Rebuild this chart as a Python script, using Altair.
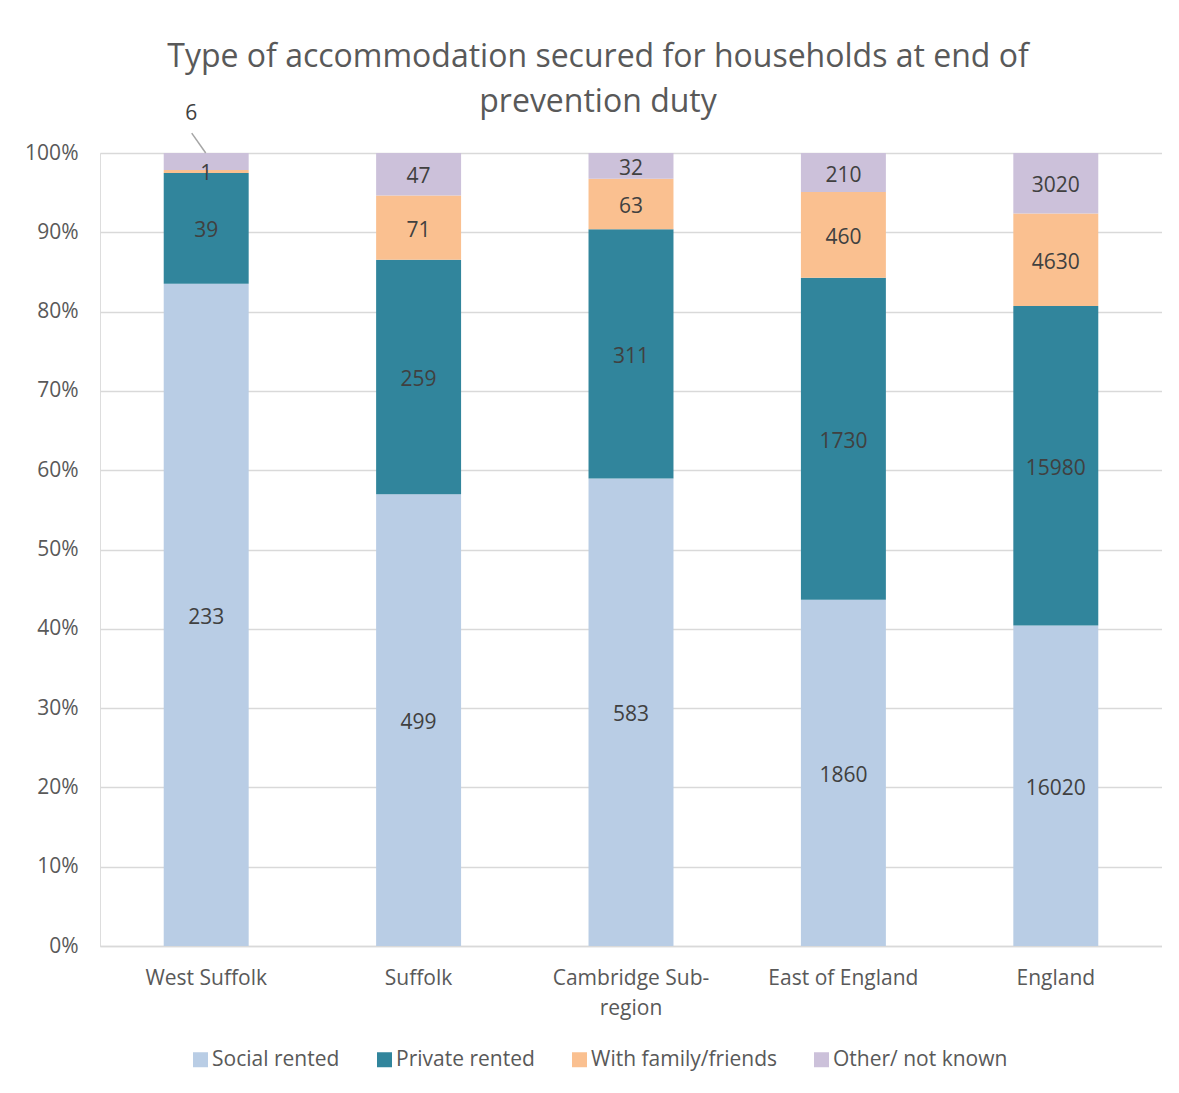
import altair as alt
import pandas as pd

regions = ["West Suffolk", "Suffolk", "Cambridge Sub-region", "East of England", "England"]
categories = ["Social rented", "Private rented", "With family/friends", "Other/ not known"]
social = [233, 499, 583, 1860, 16020]
private = [39, 259, 311, 1730, 15980]
family = [1, 71, 63, 460, 4630]
other = [6, 47, 32, 210, 3020]
colors = ["#B9CDE5", "#31859C", "#FAC090", "#CCC1DA"]

# label drawn above its bar with a leader line
callouts = [("West Suffolk", "Other/ not known")]

FONT = "Open Sans"
GREY = "#595959"
FS = 21

rows = []
for i, r in enumerate(regions):
    for k, (c, vals) in enumerate(zip(categories, [social, private, family, other])):
        rows.append({"region": r, "category": c, "k": k, "value": vals[i],
                     "callout": (r, c) in callouts})
df = pd.DataFrame(rows)

base = alt.Chart(df).transform_stack(
    stack="value", groupby=["region"], as_=["y0", "y1"], offset="normalize",
    sort=[alt.SortField("k", order="ascending")]
).transform_calculate(mid="(datum.y0 + datum.y1) / 2")

x_enc = alt.X(
    "region:N", sort=regions, title=None,
    scale=alt.Scale(paddingInner=0.6, paddingOuter=0.3),
    axis=alt.Axis(
        labelAngle=0, labelFontSize=FS, labelColor=GREY, labelFont=FONT,
        labelPadding=21, labelLineHeight=30, ticks=False,
        domainColor="#D9D9D9", domainWidth=1.5,
        labelExpr="datum.value == 'Cambridge Sub-region' ? ['Cambridge Sub-', 'region'] : datum.value",
    ),
)
y_scale = alt.Scale(domain=[0, 1], nice=False)

bars = base.mark_bar().encode(
    x=x_enc,
    y=alt.Y("y0:Q", scale=y_scale, title=None,
            axis=alt.Axis(format="%", values=[i / 10 for i in range(11)],
                          labelFontSize=FS, labelColor=GREY, labelFont=FONT,
                          labelPadding=22, ticks=False, domain=False,
                          gridColor="#D9D9D9", gridWidth=1.5)),
    y2="y1:Q",
    color=alt.Color(
        "category:N", scale=alt.Scale(domain=categories, range=colors),
        legend=alt.Legend(
            title=None, orient="none", legendX=90, legendY=896,
            direction="horizontal", symbolType="square", symbolSize=225,
            symbolStrokeWidth=0, labelFontSize=FS, labelColor=GREY,
            labelFont=FONT, columnPadding=34, labelOffset=1, labelLimit=400,
        ),
    ),
)

labels = base.transform_filter("!datum.callout").mark_text(
    fontSize=FS, font=FONT, color="#404040", dy=3
).encode(
    x=alt.X("region:N", sort=regions),
    y=alt.Y("mid:Q", scale=y_scale),
    text=alt.Text("value:Q", format="d"),
)

callout_text = base.transform_filter("datum.callout").transform_calculate(
    ly="datum.y1 + 0.052"
).mark_text(fontSize=FS, font=FONT, color="#404040", dx=-15, dy=2).encode(
    x=alt.X("region:N", sort=regions),
    y=alt.Y("ly:Q", scale=y_scale),
    text=alt.Text("value:Q", format="d"),
)

leader = base.transform_filter("datum.callout").transform_calculate(
    la="datum.y1", lb="datum.y1 + 0.025"
).transform_fold(["la", "lb"], as_=["pt", "ly"]).transform_calculate(
    off="datum.pt == 'la' ? 42 : 28"
).mark_line(color="#A6A6A6", strokeWidth=1.5).encode(
    x=alt.X("region:N", sort=regions),
    xOffset=alt.XOffset("off:Q", scale=None),
    y=alt.Y("ly:Q", scale=y_scale),
    detail="category:N",
)

chart = alt.layer(bars, labels, callout_text, leader).properties(
    width=1062, height=793,
    padding={"left": 92, "top": 145, "right": 0, "bottom": 132},
    autosize=alt.AutoSizeParams(type="none"),
    title=alt.TitleParams(
        ["Type of accommodation secured for households at end of", "prevention duty"],
        fontSize=32, font=FONT, color=GREY, fontWeight="normal",
        anchor="middle", dx=-33, dy=58, offset=42, lineHeight=45,
    ),
).configure_view(stroke=None).configure(background="white")

chart.save("out.html", embed_options={"renderer": "svg", "actions": False})
